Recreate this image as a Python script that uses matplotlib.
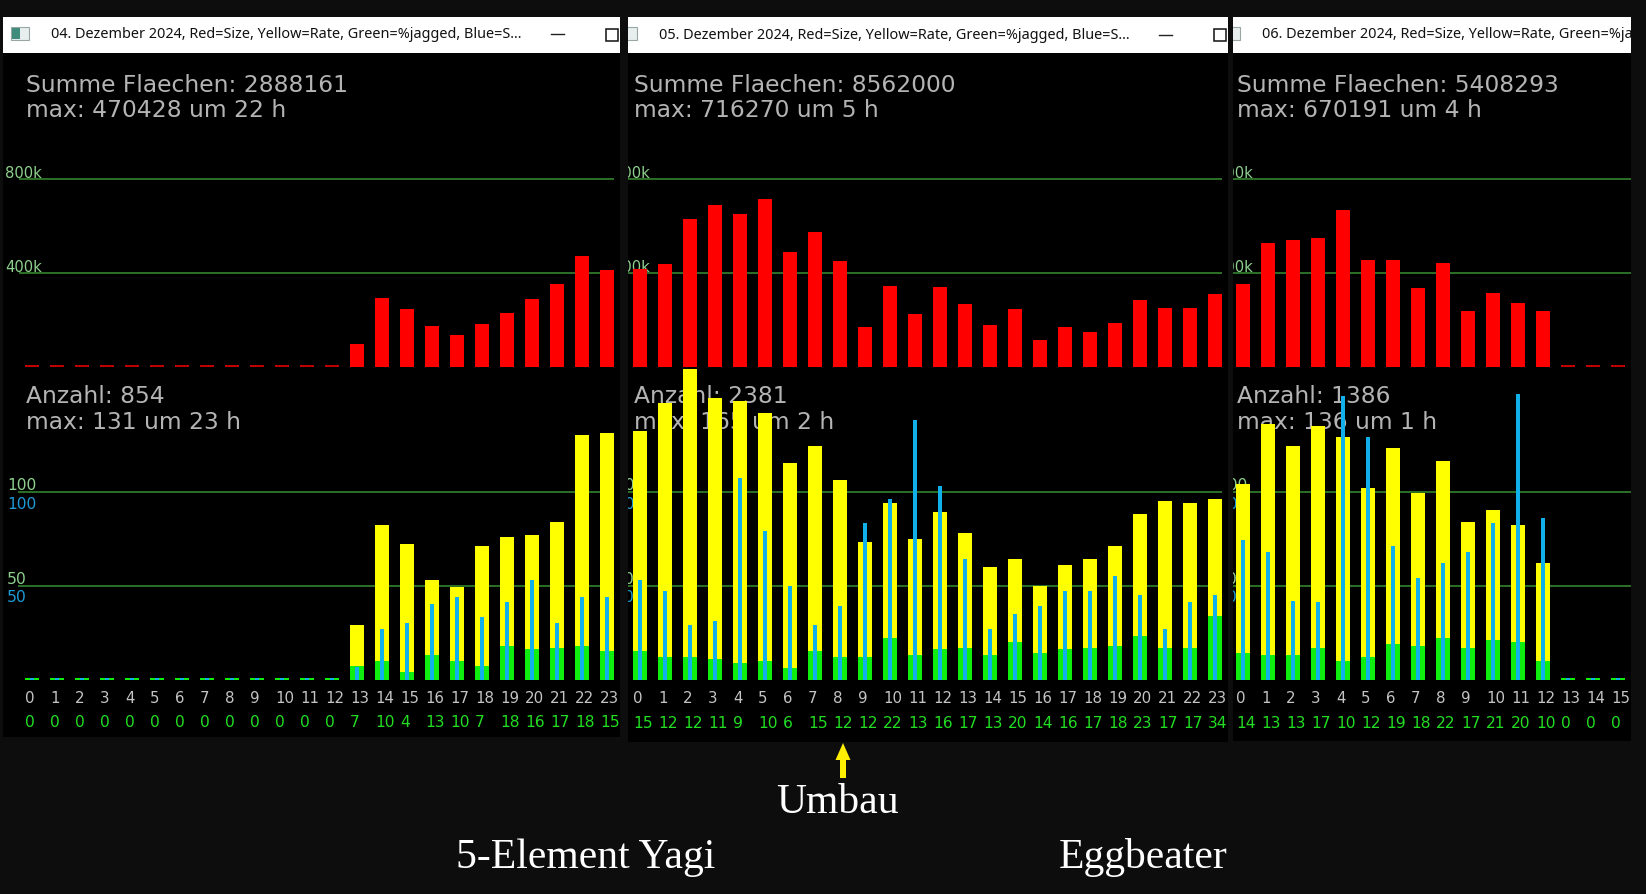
import matplotlib
matplotlib.use("Agg")
import matplotlib.pyplot as plt
import matplotlib.transforms as mtransforms
from matplotlib.patches import Rectangle, FancyArrow

# ---------------- data ----------------
hours_p1 = list(range(24))
hours_p2 = list(range(24))
hours_p3 = list(range(16))

size_p1 = [0, 0, 0, 0, 0, 0, 0, 0, 0, 0, 0, 0, 0,
           99000, 295000, 247000, 173000, 136000, 183000, 231000, 289000, 353000, 470428, 413000]
size_p2 = [418000, 439000, 628000, 688000, 651000, 716270, 488000, 576000, 450000, 171000,
           344000, 226000, 339000, 268000, 177000, 246000, 117000, 171000, 150000, 186000,
           284000, 253000, 253000, 312000]
size_p3 = [353000, 529000, 540000, 550000, 670191, 455000, 455000, 338000, 444000, 237000,
           316000, 274000, 237000, 0, 0, 0]

rate_p1 = [0, 0, 0, 0, 0, 0, 0, 0, 0, 0, 0, 0, 0, 29, 82, 72, 53, 49, 71, 76, 77, 84, 130, 131]
rate_p2 = [132, 147, 165, 150, 148, 142, 115, 124, 106, 73, 94, 75, 89, 78, 60, 64, 50, 61,
           64, 71, 88, 95, 94, 96]
rate_p3 = [104, 136, 124, 135, 129, 102, 123, 99, 116, 84, 90, 82, 62, 0, 0, 0]

jagged_p1 = [0, 0, 0, 0, 0, 0, 0, 0, 0, 0, 0, 0, 0, 7, 10, 4, 13, 10, 7, 18, 16, 17, 18, 15]
jagged_p2 = [15, 12, 12, 11, 9, 10, 6, 15, 12, 12, 22, 13, 16, 17, 13, 20, 14, 16, 17, 18,
             23, 17, 17, 34]
jagged_p3 = [14, 13, 13, 17, 10, 12, 19, 18, 22, 17, 21, 20, 10, 0, 0, 0]

blue_p1 = [0, 0, 0, 0, 0, 0, 0, 0, 0, 0, 0, 0, 0, 6.5, 27, 30, 40, 44, 33, 41, 53, 30, 44, 44]
blue_p2 = [53, 47, 29, 31, 107, 79, 50, 29, 39, 83, 96, 138, 103, 64, 27, 35, 39, 47, 47,
           55, 45, 27, 41, 45]
blue_p3 = [74, 68, 42, 41, 151, 129, 71, 54, 62, 68, 83, 152, 86, 0, 0, 0]

titles = ["04. Dezember 2024, Red=Size, Yellow=Rate, Green=%jagged, Blue=S...",
          "05. Dezember 2024, Red=Size, Yellow=Rate, Green=%jagged, Blue=S...",
          "06. Dezember 2024, Red=Size, Yellow=Rate, Green=%jagged, Blue=S..."]
sum_texts = ["Summe Flaechen: 2888161", "Summe Flaechen: 8562000", "Summe Flaechen: 5408293"]
size_max_texts = ["max: 470428 um 22 h", "max: 716270 um 5 h", "max: 670191 um 4 h"]
count_texts = ["Anzahl: 854", "Anzahl: 2381", "Anzahl: 1386"]
count_max_texts = ["max: 131 um 23 h", "max: 165 um 2 h", "max: 136 um 1 h"]
size_grid = [400000, 800000]
size_grid_labels = ["400k", "800k"]
count_grid = [50, 100]
count_grid_labels = ["50", "100"]
bottom_labels = ["5-Element Yagi", "Eggbeater"]
arrow_label = "Umbau"

# ---------------- layout ----------------
W, H = 1646, 894
fig = plt.figure(figsize=(W / 100, H / 100), dpi=100)
fig.patch.set_facecolor("#0d0d0d")


def px_axes(x0, y0, x1, y1, z):
    ax = fig.add_axes([x0 / W, 1 - y1 / H, (x1 - x0) / W, (y1 - y0) / H])
    ax.set_zorder(z)
    ax.set_xticks([])
    ax.set_yticks([])
    for s in ax.spines.values():
        s.set_visible(False)
    return ax


bg = px_axes(0, 0, W, H, 0)
bg.set_xlim(0, W)
bg.set_ylim(H, 0)
bg.set_facecolor("#0d0d0d")

panels = [
    dict(x0=3, x1=620, vx=3, bottom=737),
    dict(x0=628, x1=1228, vx=611, bottom=742),
    dict(x0=1233, x1=1631, vx=1214, bottom=741),
]
data = [
    (hours_p1, size_p1, rate_p1, jagged_p1, blue_p1),
    (hours_p2, size_p2, rate_p2, jagged_p2, blue_p2),
    (hours_p3, size_p3, rate_p3, jagged_p3, blue_p3),
]

TOP = 17
TBAR = 36
STEP = 25.0          # pixels per hour
BW = 14 / STEP       # bar width in hours
BLW = 4 / STEP       # blue line width
UP_BASE, UP_TOP = 367, 125
UP_PX = 94 / 400000.0
LO_BASE, LO_TOP = 679.5, 366
LO_PX = 1.88

GRAY = "#b4b4b4"
TICKGRAY = "#c4c4c4"
RED = "#ff0000"
YELLOW = "#ffff00"
GREEN = "#10ee10"
BLUE = "#12b0ea"
GRID = "#2f7a2a"
LBL_GREEN = "#8fd08f"
LBL_BLUE = "#1e9ad6"
NUM_GREEN = "#22dd22"
HFONT = "DejaVu Sans"

for p, (hrs, size, rate, jag, blue), title, st, smt, ct, cmt in zip(
        panels, data, titles, sum_texts, size_max_texts, count_texts, count_max_texts):
    x0, x1, vx, bottom = p["x0"], p["x1"], p["vx"], p["bottom"]

    pax = px_axes(x0, TOP, x1, bottom, 1)
    pax.set_xlim(x0, x1)
    pax.set_ylim(bottom, TOP)
    pax.set_facecolor("black")

    # title bar
    pax.add_patch(Rectangle((x0, TOP), x1 - x0, TBAR, fc="white", ec="none", zorder=1))
    pax.add_patch(Rectangle((vx + 8, 27), 18, 13, fc="#e8eeee", ec="#9aa6a6", lw=0.8, zorder=2))
    pax.add_patch(Rectangle((vx + 9, 28), 8, 11, fc="#3f8c7c", ec="none", zorder=3))
    pax.text(vx + 48, 35, title, fontsize=10.4, family="Noto Sans", color="#111111",
             va="center", ha="left", clip_on=True, zorder=4)
    pax.plot([vx + 548, vx + 561], [34.5, 34.5], color="#222222", lw=1.0, zorder=4,
             clip_on=True)
    pax.add_patch(Rectangle((vx + 603, 28.5), 12, 12, fill=False, ec="#111111", lw=1.1,
                            zorder=4))

    # info texts (under bars)
    for txt, yb in ((st, 92), (smt, 117), (ct, 403), (cmt, 429)):
        pax.text(vx + 23, yb, txt, fontsize=16.8, family=HFONT, color=GRAY,
                 va="baseline", ha="left", clip_on=True, zorder=2)

    c0 = vx + 29
    xl = ((x0 - c0) / STEP, (x1 - c0) / STEP)

    # upper chart: size
    ua = px_axes(x0, UP_TOP, x1, UP_BASE, 2)
    ua.set_facecolor("none")
    ua.set_xlim(*xl)
    ua.set_ylim(0, (UP_BASE - UP_TOP) / UP_PX)
    ua.hlines(size_grid, -1 + 12 / STEP, 23 + BW / 2, color=GRID, lw=1.3, zorder=1)
    for g, gl in zip(size_grid, size_grid_labels):
        ua.text(-1.08, g + 1.5 / UP_PX, gl, fontsize=10.6, family=HFONT, color=LBL_GREEN,
                va="baseline", ha="left", clip_on=True, zorder=1)
    min_up = 2 / UP_PX
    ua.bar(hrs, [v if v > 0 else min_up for v in size], width=BW,
           color=[RED if v > 0 else "#c00000" for v in size], zorder=2)

    # lower chart: rate / jagged / blue
    la = px_axes(x0, LO_TOP, x1, LO_BASE, 2)
    la.set_facecolor("none")
    la.set_xlim(*xl)
    la.set_ylim(0, (LO_BASE - LO_TOP) / LO_PX)
    la.hlines(count_grid, -1 + 11 / STEP, 23 + BW / 2, color=GRID, lw=1.3, zorder=1)
    for g, gl in zip(count_grid, count_grid_labels):
        la.text(-1.0, g + 1 / LO_PX, gl, fontsize=11.2, family=HFONT, color=LBL_GREEN,
                va="baseline", ha="left", clip_on=True, zorder=1)
        la.text(-1.0, g - 5 / LO_PX, gl, fontsize=11.2, family=HFONT, color=LBL_BLUE,
                va="top", ha="left", clip_on=True, zorder=1)
    min_lo = 1.6 / LO_PX
    la.bar(hrs, rate, width=BW, color=YELLOW, zorder=2)
    la.bar(hrs, [v if v > 0 else min_lo for v in jag], width=BW, color=GREEN, zorder=3)
    la.bar(hrs, [v if v > 0 else min_lo for v in blue], width=BLW, color=BLUE, zorder=4)

    # hour labels and jagged numbers
    tr = mtransforms.blended_transform_factory(la.transData, pax.transData)
    for h, j in zip(hrs, jag):
        pax.text(h - BW / 2, 698.5, str(h), transform=tr, fontsize=10.8, family=HFONT,
                 color=TICKGRAY, va="center", ha="left", clip_on=True, zorder=5)
        pax.text(h - BW / 2, 723, str(j), transform=tr, fontsize=11.2, family=HFONT,
                 color=NUM_GREEN, va="center", ha="left", clip_on=True, zorder=5)

# bottom annotations
bg.add_patch(FancyArrow(843, 778, 0, -35, width=6, head_width=15, head_length=17,
                        length_includes_head=True, color="#ffee00", lw=0))
bg.text(837, 813, arrow_label, family="Liberation Serif", fontsize=30, color="white",
        ha="center", va="baseline")
bg.text(586, 868, bottom_labels[0], family="Liberation Serif", fontsize=30, color="white",
        ha="center", va="baseline")
bg.text(1143, 868, bottom_labels[1], family="Liberation Serif", fontsize=30, color="white",
        ha="center", va="baseline")

fig.savefig("out.png", dpi=100, facecolor=fig.get_facecolor())
